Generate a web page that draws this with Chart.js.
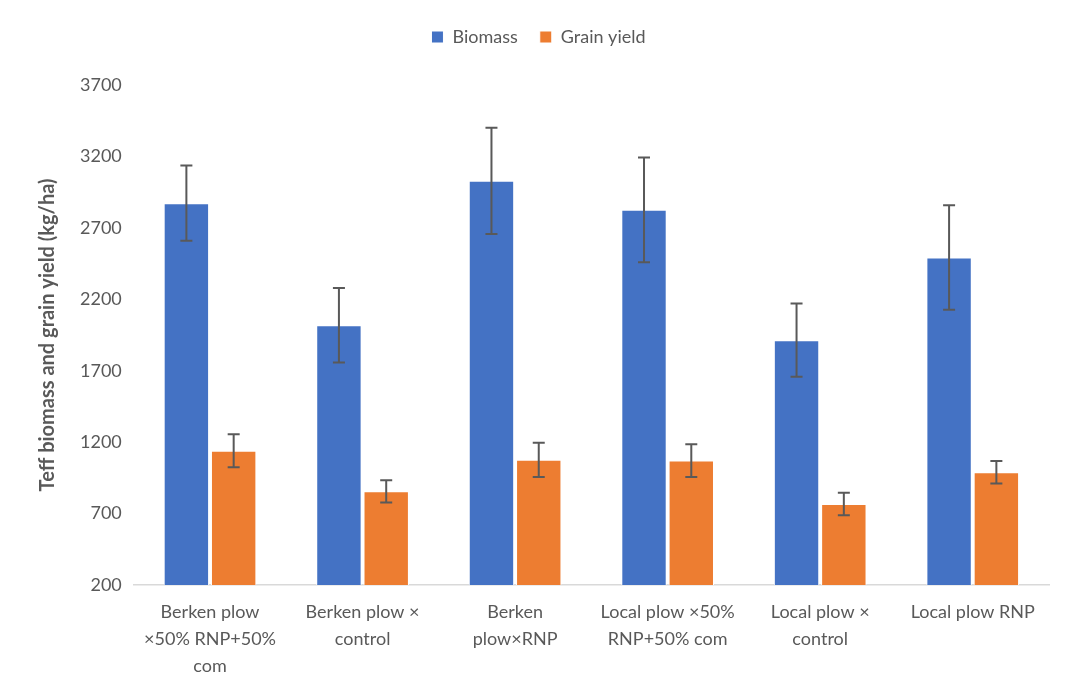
<!DOCTYPE html>
<html><head><meta charset="UTF-8">
<title>Teff biomass and grain yield</title>
<style>
* { margin: 0; padding: 0; box-sizing: border-box; }
body { background: #ffffff; width: 1091px; height: 698px; overflow: hidden; }
.chart-box { position: relative; width: 1091px; height: 698px; }
</style>
<script src="https://cdn.jsdelivr.net/npm/chart.js"></script>
</head>
<body>
<div class="chart-box"><canvas id="yieldChart"></canvas></div>
<script>
const categories = [
  ['Berken plow', '\u00d750% RNP+50%', 'com'],
  ['Berken plow \u00d7', 'control'],
  ['Berken', 'plow\u00d7RNP'],
  ['Local plow \u00d750%', 'RNP+50% com'],
  ['Local plow \u00d7', 'control'],
  ['Local plow RNP']
];
const biomass = [2873, 2018, 3029, 2826, 1914, 2493];
const biomassErr = [263, 261, 372, 367, 256, 366];
const grainYield = [1140, 856, 1076, 1071, 767, 989];
const grainErr = [115, 78, 120, 115, 78, 79];
const yTicks = [200, 700, 1200, 1700, 2200, 2700, 3200, 3700];

const textGray = '#595959';
const fontFam = 'Lato, "Open Sans", sans-serif';

// draws the +/- error bars on top of each bar
const errorBars = {
  id: 'errorBars',
  afterDatasetsDraw(chart) {
    const ctx = chart.ctx;
    const yScale = chart.scales.y;
    ctx.save();
    ctx.strokeStyle = '#595959';
    ctx.lineWidth = 2;
    chart.data.datasets.forEach((ds, i) => {
      const meta = chart.getDatasetMeta(i);
      meta.data.forEach((bar, j) => {
        const v = ds.data[j];
        const e = ds.errors[j];
        const top = yScale.getPixelForValue(v + e);
        const bot = yScale.getPixelForValue(v - e);
        const cap = 6;
        ctx.beginPath();
        ctx.moveTo(bar.x, top); ctx.lineTo(bar.x, bot);
        ctx.moveTo(bar.x - cap, top); ctx.lineTo(bar.x + cap, top);
        ctx.moveTo(bar.x - cap, bot); ctx.lineTo(bar.x + cap, bot);
        ctx.stroke();
      });
    });
    ctx.restore();
  }
};

// extra space between legend and plot
const legendGap = {
  id: 'legendGap',
  beforeInit(chart) {
    const fit = chart.legend.fit;
    chart.legend.fit = function () {
      fit.bind(chart.legend)();
      this.height += 29;
    };
  }
};

new Chart(document.getElementById('yieldChart'), {
  type: 'bar',
  data: {
    labels: categories,
    datasets: [
      { label: 'Biomass', data: biomass, errors: biomassErr,
        backgroundColor: '#4472C4', borderColor: '#ffffff', borderWidth: 1,
        categoryPercentage: 0.62, barPercentage: 0.96 },
      { label: 'Grain yield', data: grainYield, errors: grainErr,
        backgroundColor: '#ED7D31', borderColor: '#ffffff', borderWidth: 1,
        categoryPercentage: 0.62, barPercentage: 0.96 }
    ]
  },
  options: {
    responsive: true,
    maintainAspectRatio: false,
    animation: false,
    layout: { padding: { top: 6, left: 28, right: 42, bottom: 4 } },
    plugins: {
      legend: {
        position: 'top',
        labels: { color: textGray, font: { family: fontFam, size: 18 },
          boxWidth: 12, boxHeight: 12, padding: 22 }
      },
      tooltip: { enabled: false }
    },
    scales: {
      x: {
        grid: { display: false, drawTicks: false },
        border: { display: true, color: '#d9d9d9', width: 1.5 },
        ticks: { color: textGray, font: { family: fontFam, size: 18, lineHeight: 1.5 },
          maxRotation: 0, minRotation: 0, padding: 14 }
      },
      y: {
        min: 200, max: 3700,
        afterBuildTicks(axis) { axis.ticks = yTicks.map(v => ({ value: v })); },
        grid: { display: false, drawTicks: false },
        border: { display: false },
        ticks: { color: textGray, font: { family: fontFam, size: 18 }, padding: 12,
          callback: v => String(v) },
        title: { display: true, text: 'Teff biomass and grain yield (kg/ha)',
          color: textGray, font: { family: fontFam, size: 20, weight: 'bold' }, padding: 8 }
      }
    }
  },
  plugins: [errorBars, legendGap]
});
</script>
</body></html>
